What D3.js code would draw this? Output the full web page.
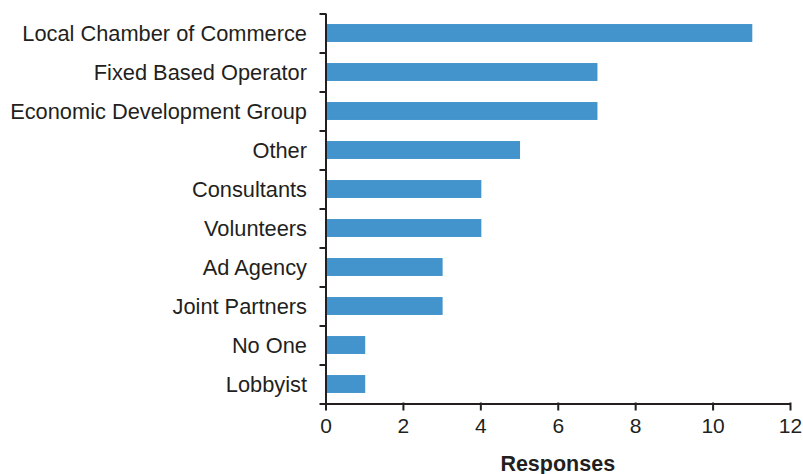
<!DOCTYPE html>
<html>
<head>
<meta charset="utf-8">
<script src="https://cdn.jsdelivr.net/npm/d3@7"></script>
<style>
  html, body { margin: 0; padding: 0; background: #fff; }
  svg { display: block; font-family: "Liberation Sans", Arial, Helvetica, sans-serif; }
</style>
</head>
<body>
<svg id="chart" width="803" height="474"></svg>
<script>
const categories = ["Local Chamber of Commerce", "Fixed Based Operator", "Economic Development Group", "Other", "Consultants", "Volunteers", "Ad Agency", "Joint Partners", "No One", "Lobbyist"];
const responses = [11, 7, 7, 5, 4, 4, 3, 3, 1, 1];
const xTicks = [0, 2, 4, 6, 8, 10, 12];
const xTitle = "Responses";

const svg = d3.select("#chart");
const plotLeft = 325.5, plotRight = 790, plotTop = 13.5, plotBottom = 403.5;
const ink = "#231f20";
const barColor = "#4394cd";

const x = d3.scaleLinear().domain([0, 12]).range([plotLeft, plotRight]);
const p = 0.54;
const y = d3.scaleBand().domain(categories).range([plotTop, plotBottom]).paddingInner(p).paddingOuter(p / 2);
const yEdges = d3.scaleLinear().domain([0, categories.length]).range([plotTop, plotBottom]);

// bars
svg.append("g").selectAll("rect").data(categories).join("rect")
  .attr("x", x(0) + 1)
  .attr("y", d => y(d))
  .attr("width", (d, i) => x(responses[i]) - x(0))
  .attr("height", y.bandwidth())
  .attr("fill", barColor);

// y axis (ticks at band edges)
const yAxis = svg.append("g").attr("transform", `translate(${plotLeft},0)`)
  .call(d3.axisLeft(yEdges).tickValues(d3.range(0, categories.length + 1)).tickFormat("").tickSize(6).tickSizeOuter(0));
yAxis.select(".domain").attr("stroke", ink).attr("stroke-width", 2);
yAxis.selectAll(".tick line").attr("stroke", ink).attr("stroke-width", 2).attr("x2", -6).attr("x1", 1);

// category labels
svg.append("g").selectAll("text").data(categories).join("text")
  .attr("x", 307)
  .attr("y", d => y(d) + y.bandwidth() / 2)
  .attr("dy", "0.36em")
  .attr("text-anchor", "end")
  .attr("font-size", 21.8)
  .attr("fill", ink)
  .text(d => d);

// x axis
const xAxis = svg.append("g").attr("transform", `translate(0,${plotBottom})`)
  .call(d3.axisBottom(x).tickValues(xTicks).tickSize(7).tickSizeOuter(0).tickPadding(8));
xAxis.select(".domain").attr("stroke", ink).attr("stroke-width", 2);
xAxis.selectAll(".tick line").attr("stroke", ink).attr("stroke-width", 2).attr("y1", -1);
xAxis.selectAll(".tick text").attr("font-size", 21).attr("fill", ink)
  .attr("font-family", "'Liberation Sans', Arial, sans-serif");

// x title
svg.append("text")
  .attr("x", (plotLeft + plotRight) / 2)
  .attr("y", 470.5)
  .attr("text-anchor", "middle")
  .attr("font-size", 21.5)
  .attr("font-weight", "bold")
  .attr("fill", ink)
  .text(xTitle);
</script>
</body>
</html>
